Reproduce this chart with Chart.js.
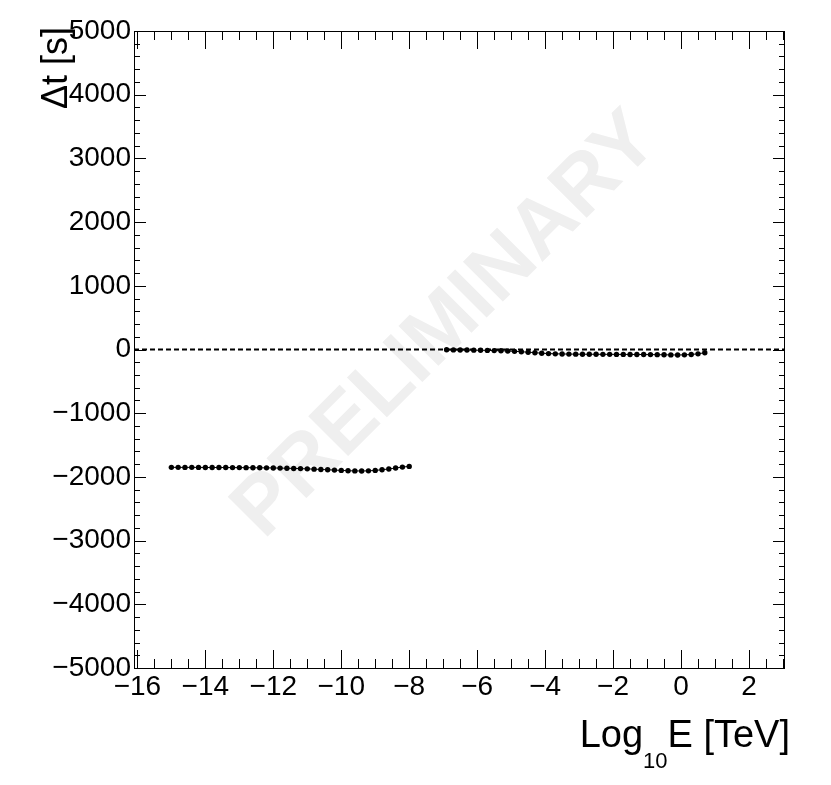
<!DOCTYPE html>
<html lang="en">
<head>
<meta charset="UTF-8">
<title>Δt vs Log10 E</title>
<script src="https://cdn.jsdelivr.net/npm/chart.js@4"></script>
<style>
  *{margin:0;padding:0;box-sizing:border-box}
  body{background:#fff;width:831px;height:785px;overflow:hidden}
  #c{display:block}
</style>
</head>
<body>
<canvas id="c" width="831" height="785"></canvas>
<script>
// axis ranges + tick positions
const xMin = -16.1, xMax = 3.06;
const yMin = -5000, yMax = 5000;
const xTicks = [-16, -14, -12, -10, -8, -6, -4, -2, 0, 2];
const yTicks = [-5000, -4000, -3000, -2000, -1000, 0, 1000, 2000, 3000, 4000, 5000];

// low-energy branch
const lowE = [-15.0,-14.8,-14.6,-14.4,-14.2,-14.0,-13.8,-13.6,-13.4,-13.2,-13.0,-12.8,-12.6,-12.4,-12.2,-12.0,
  -11.8,-11.6,-11.4,-11.2,-11.0,-10.8,-10.6,-10.4,-10.2,-10.0,-9.8,-9.6,-9.4,-9.2,-9.0,-8.8,-8.6,-8.4,-8.2,-8.0];
const lowDt = [-1850,-1850,-1851,-1850,-1851,-1852,-1852,-1853,-1853,-1854,-1854,-1855,-1856,-1857,-1858,-1860,
  -1862,-1864,-1867,-1870,-1874,-1878,-1883,-1888,-1893,-1898,-1903,-1906,-1907,-1905,-1898,-1888,-1875,-1860,-1846,-1835];

// high-energy branch
const highE = [-6.9,-6.7,-6.5,-6.3,-6.1,-5.9,-5.7,-5.5,-5.3,-5.1,-4.9,-4.7,-4.5,-4.3,-4.1,-3.9,-3.7,-3.5,-3.3,-3.1,
  -2.9,-2.7,-2.5,-2.3,-2.1,-1.9,-1.7,-1.5,-1.3,-1.1,-0.9,-0.7,-0.5,-0.3,-0.1,0.1,0.3,0.5,0.7];
const highDt = [-5,-6,-7,-8,-10,-12,-14,-17,-20,-24,-29,-35,-42,-50,-58,-64,-68,-70,-72,-73,
  -74,-75,-75,-76,-76,-77,-77,-78,-78,-79,-80,-81,-83,-85,-86,-84,-78,-68,-50];

const FONT = '"Liberation Sans", Arial, Helvetica, sans-serif';
const fmt = v => v < 0 ? '\u2212' + Math.abs(v) : String(v);
const pts = (xs, ys) => xs.map((x, i) => ({x, y: ys[i]}));

// ROOT-like frame, inside ticks, watermark and axis titles
const rootFrame = {
  id: 'rootFrame',
  beforeDatasetsDraw(chart) {
    const {ctx, chartArea: a} = chart;
    ctx.save();
    ctx.fillStyle = '#efefef';
    ctx.font = 'bold 82px ' + FONT;
    ctx.textAlign = 'center';
    ctx.textBaseline = 'middle';
    ctx.translate(a.left + (a.right - a.left) * 0.48, a.top + (a.bottom - a.top) * 0.463);
    ctx.rotate(-Math.PI / 4);
    ctx.fillText('PRELIMINARY', 0, 0);
    ctx.restore();
  },
  afterDraw(chart) {
    const {ctx, chartArea: a, scales: {x, y}} = chart;
    ctx.save();
    ctx.strokeStyle = '#000';
    ctx.lineWidth = 1;
    ctx.strokeRect(a.left + 0.5, a.top + 0.5, a.right - a.left - 1, a.bottom - a.top);
    ctx.beginPath();
    for (let v = -16; v <= xMax; v += 0.5) {
      const px = Math.round(x.getPixelForValue(v)) + 0.5;
      const len = Math.abs(v % 2) < 1e-9 ? 18 : 9;
      ctx.moveTo(px, a.bottom); ctx.lineTo(px, a.bottom - len);
      ctx.moveTo(px, a.top); ctx.lineTo(px, a.top + len);
    }
    for (let v = yMin; v <= yMax; v += 200) {
      const py = Math.round(y.getPixelForValue(v)) + 0.5;
      const len = v % 1000 === 0 ? 12 : 6;
      ctx.moveTo(a.left, py); ctx.lineTo(a.left + len, py);
      ctx.moveTo(a.right, py); ctx.lineTo(a.right - len, py);
    }
    ctx.stroke();

    // axis titles
    ctx.fillStyle = '#000';
    ctx.textBaseline = 'alphabetic';
    ctx.font = '38px ' + FONT;
    ctx.textAlign = 'right';
    const right = 790, base = 747;
    ctx.fillText('E [TeV]', right, base);
    const wE = ctx.measureText('E [TeV]').width;
    ctx.font = '22px ' + FONT;
    ctx.fillText('10', right - wE, 768);
    const w10 = ctx.measureText('10').width;
    ctx.font = '38px ' + FONT;
    ctx.fillText('Log', right - wE - w10, base);

    ctx.font = '36px ' + FONT;
    ctx.translate(67, 27);
    ctx.rotate(-Math.PI / 2);
    ctx.fillText('\u0394t [s]', 0, 0);
    ctx.restore();
  }
};

new Chart(document.getElementById('c'), {
  type: 'scatter',
  data: {
    datasets: [
      {
        data: [{x: xMin, y: 0}, {x: xMax, y: 0}],
        showLine: true, borderColor: '#000', borderWidth: 2, borderDash: [5, 3],
        pointRadius: 0
      },
      {
        data: pts(lowE, lowDt),
        showLine: true, borderColor: '#000', borderWidth: 1,
        pointRadius: 2.7, pointBackgroundColor: '#000', pointBorderWidth: 0
      },
      {
        data: pts(highE, highDt),
        showLine: true, borderColor: '#000', borderWidth: 1,
        pointRadius: 2.7, pointBackgroundColor: '#000', pointBorderWidth: 0
      }
    ]
  },
  options: {
    responsive: false,
    animation: false,
    devicePixelRatio: 1,
    layout: {padding: {top: 31, right: 46, left: 0, bottom: 0}},
    plugins: {legend: {display: false}, tooltip: {enabled: false}},
    scales: {
      x: {
        type: 'linear', min: xMin, max: xMax,
        afterBuildTicks: s => { s.ticks = xTicks.map(v => ({value: v})); },
        afterFit: s => { s.height = 117; },
        grid: {display: false, drawTicks: false, tickLength: 0}, border: {display: false},
        ticks: {color: '#000', font: {family: FONT, size: 28}, padding: 2, maxRotation: 0, autoSkip: false, callback: fmt}
      },
      y: {
        type: 'linear', min: yMin, max: yMax,
        afterBuildTicks: s => { s.ticks = yTicks.map(v => ({value: v})); },
        afterFit: s => { s.width = 134; },
        grid: {display: false, drawTicks: false, tickLength: 0}, border: {display: false},
        ticks: {color: '#000', font: {family: FONT, size: 28}, padding: 3, autoSkip: false, callback: fmt}
      }
    }
  },
  plugins: [rootFrame]
});
</script>
</body>
</html>
